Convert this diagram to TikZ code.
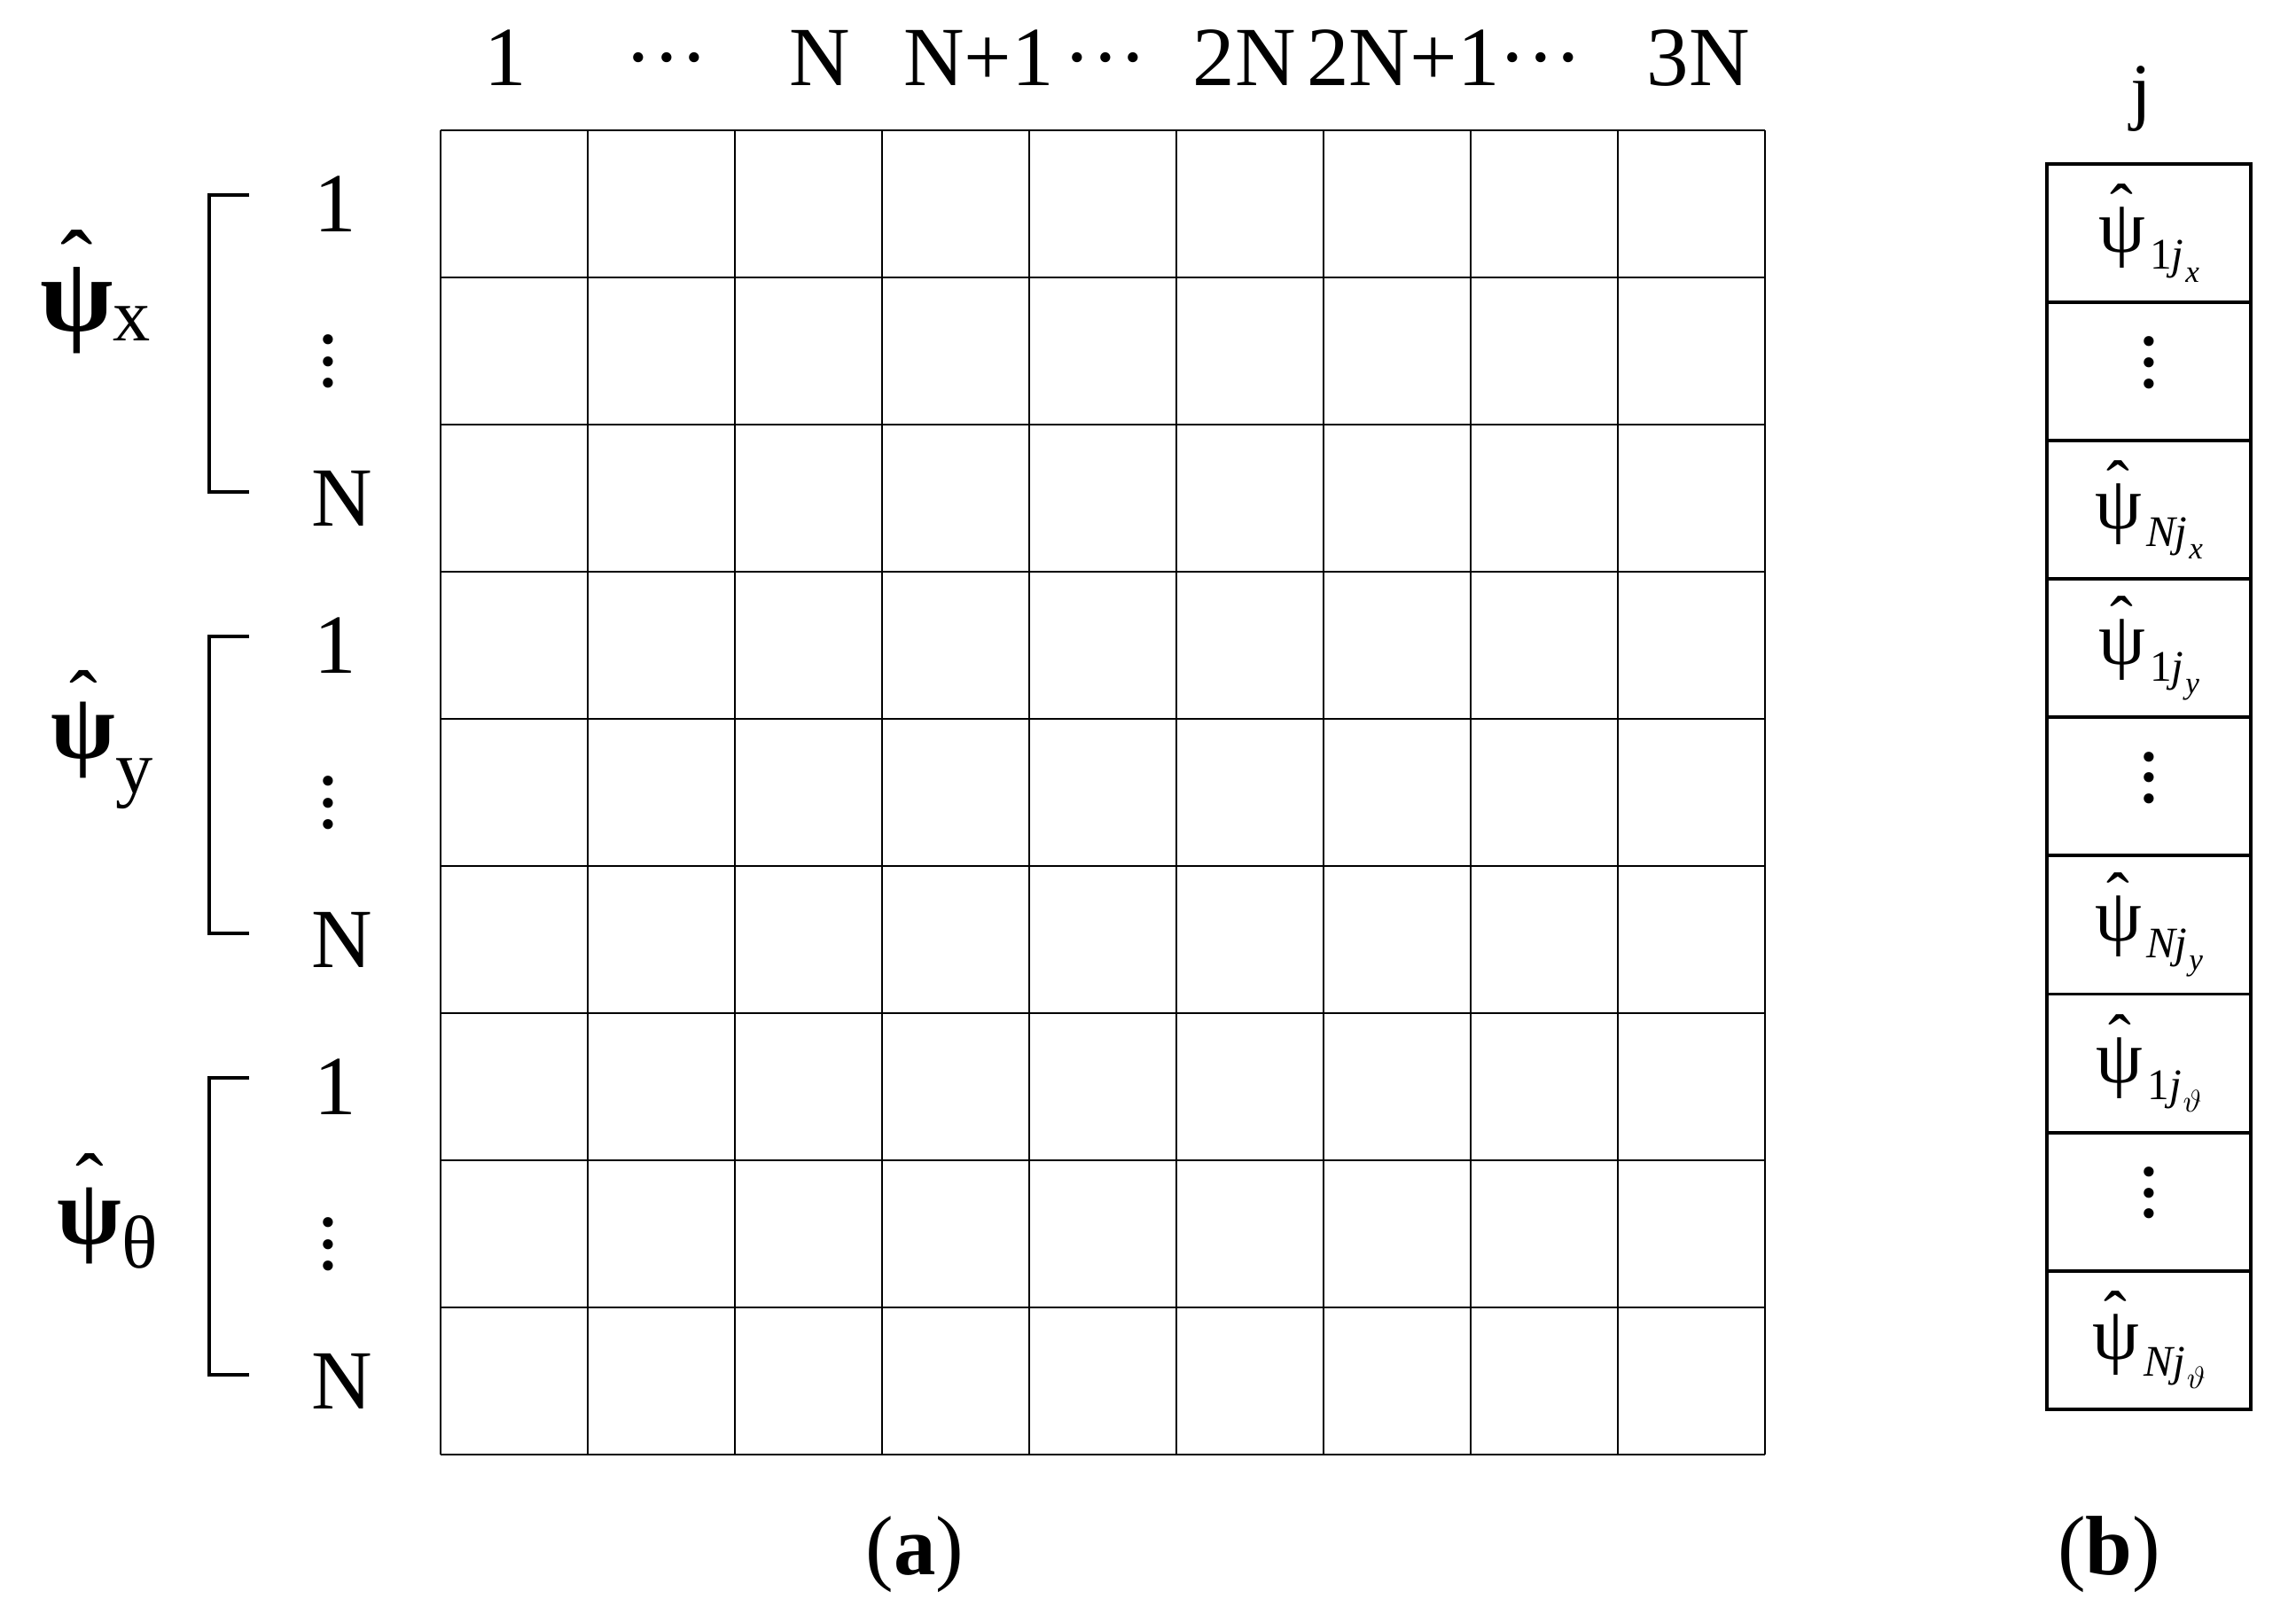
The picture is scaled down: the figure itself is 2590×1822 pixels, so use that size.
\documentclass[tikz,border=0pt]{standalone}
\usepackage[no-math]{fontspec}
\setmainfont{Liberation Serif}
\usetikzlibrary{positioning}

% three stacked dots with a chosen gap
\newcommand{\dotstack}[1]{\vbox{\baselineskip#1\lineskiplimit0pt\hbox{.}\hbox{.}\hbox{.}}}
% psi with a hat: psi size, weight, hat size, hat raise
\newcommand{\hatpsi}[4]{{\fontsize{#1}{#1}\selectfont#2\setbox0\hbox{ψ}%
  \rlap{\makebox[\wd0]{\raisebox{#4}{\fontsize{#3}{#3}\selectfont\mdseries ˆ}}}\box0}}
% hatted psi with two-level index of the column vector
\newcommand{\vpsi}[2]{\hatpsi{24}{}{22}{6.5pt}%
  \kern1.5pt\raisebox{-5.5pt}{\fontsize{14}{16}\selectfont #1\kern0.5pt\raisebox{-4pt}{\fontsize{10}{12}\selectfont\itshape #2}}}

\tikzset{
  lbl/.style={inner sep=0pt, font=\fontsize{27}{32}\selectfont},
  psilbl/.style={inner sep=0pt, anchor=base west, font=\fontsize{24}{28}\selectfont},
  gridline/.style={line width=0.8pt},
  brk/.style={line width=0.9pt},
  vcell/.style={draw, line width=1.1pt, minimum width=2.30cm, minimum height=1.56cm,
    inner sep=0pt, outer sep=0pt}
}

\begin{document}
\begin{tikzpicture}[x=0.01cm, y=-0.01cm]
  \useasboundingbox (0,0) rectangle (2590,1822);

  % Matrix grid (a)
  \foreach \k in {0,...,9} {
    \draw[gridline] (497+166*\k,147) -- (497+166*\k,1641);
    \draw[gridline] (497,147+166*\k) -- (1991,147+166*\k);
  }

  % Column numbers
  \foreach \x/\t [count=\i] in {570/1, 752/{···}, 925/N, 1104/N+1, 1247/{···},
                                1404/2N, 1583/2N+1, 1738/{···}, 1916/3N}
    \node[lbl, anchor=base] (col\i) at (\x,97) {\t};

  % Row numbers and brackets
  \foreach \g in {0,1,2} {
    \node[lbl] (first\g) at (378,230+498*\g) {1};
    \node[lbl] (dots\g) at (370,408+498*\g) {\dotstack{7pt}};
    \node[lbl] (last\g) at (386,562+498*\g) {N};
    \draw[brk] (281,220+498*\g) -| (236,555+498*\g) -- (281,555+498*\g);
  }

  % Block labels
  \node[psilbl] (psix) at (45,374) {\hatpsi{34}{\bfseries}{31}{11pt}\raisebox{-3pt}{x}};
  \node[psilbl] (psiy) at (57,856) {\hatpsi{30}{\bfseries}{27}{9.5pt}\raisebox{-11pt}{y}};
  \node[psilbl] (psit) at (64,1403) {\hatpsi{30}{\bfseries}{27}{10pt}\raisebox{-7.7pt}{θ}};

  % Column vector (b)
  \node[lbl, font=\fontsize{24}{28}\selectfont] (jlbl) at (2415,112) {j};
  \node[vcell] (v1) at (2424,263) {\vpsi{1\textit{j}}{x}};
  \node[vcell, below=0pt of v1] (v2) {\raisebox{6pt}{\fontsize{27}{32}\selectfont\dotstack{6.7pt}}};
  \node[vcell, below=0pt of v2] (v3) {\vpsi{\textit{Nj}}{x}};
  \node[vcell, below=0pt of v3] (v4) {\vpsi{1\textit{j}}{y}};
  \node[vcell, below=0pt of v4] (v5) {\raisebox{6pt}{\fontsize{27}{32}\selectfont\dotstack{6.7pt}}};
  \node[vcell, below=0pt of v5] (v6) {\vpsi{\textit{Nj}}{y}};
  \node[vcell, below=0pt of v6] (v7) {\vpsi{1\textit{j}}{$\vartheta$}};
  \node[vcell, below=0pt of v7] (v8) {\raisebox{6pt}{\fontsize{27}{32}\selectfont\dotstack{6.7pt}}};
  \node[vcell, below=0pt of v8] (v9) {\vpsi{\textit{Nj}}{$\vartheta$}};

  % Captions
  \node[lbl] (capa) at (1032,1754) {(\textbf{a})};
  \node[lbl] (capb) at (2379,1754) {(\textbf{b})};
\end{tikzpicture}
\end{document}
